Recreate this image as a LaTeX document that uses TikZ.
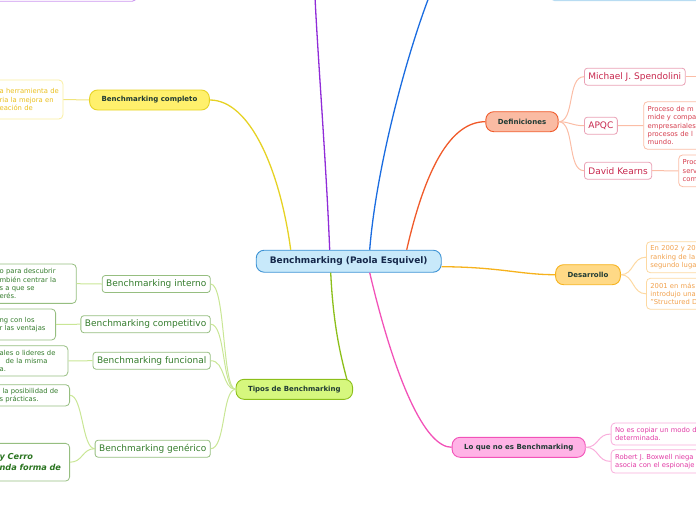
\documentclass[tikz,border=0pt]{standalone}
\usepackage{fontspec}
\setmainfont{DejaVu Sans}
\usetikzlibrary{positioning}
\definecolor{cenfill}{HTML}{C8E9FA}
\definecolor{cenline}{HTML}{3C92D4}
\definecolor{navytext}{HTML}{15284A}
\definecolor{darktext}{HTML}{1F3A34}
\definecolor{yellowfill}{HTML}{FFF06C}
\definecolor{yellowline}{HTML}{E6D224}
\definecolor{yellowsoft}{HTML}{FAEFA0}
\definecolor{yellowtext}{HTML}{EBC01E}
\definecolor{purpleline}{HTML}{902CD8}
\definecolor{purplesoft}{HTML}{CC96F0}
\definecolor{blueline}{HTML}{1A6CE0}
\definecolor{bluesoft}{HTML}{B8DCF2}
\definecolor{redfill}{HTML}{FABBA3}
\definecolor{redline}{HTML}{F05A2A}
\definecolor{redsoft}{HTML}{FBBDA6}
\definecolor{crimson}{HTML}{C8284E}
\definecolor{crimsonsoft}{HTML}{EAA2B6}
\definecolor{rusttext}{HTML}{D63E4E}
\definecolor{orangefill}{HTML}{FFD986}
\definecolor{orangeline}{HTML}{F6B21C}
\definecolor{orangesoft}{HTML}{FDD9A2}
\definecolor{orangetext}{HTML}{F2A24E}
\definecolor{greenfill}{HTML}{D6F77E}
\definecolor{greenline}{HTML}{8CBF1A}
\definecolor{greensoft}{HTML}{C9E695}
\definecolor{greenbox}{HTML}{96BE80}
\definecolor{greentext}{HTML}{347C2C}
\definecolor{greendark}{HTML}{2A7420}
\definecolor{pinkfill}{HTML}{FFB3E6}
\definecolor{pinkline}{HTML}{F252B8}
\definecolor{pinksoft}{HTML}{F9AEDC}
\definecolor{pinktext}{HTML}{E23CA6}

\begin{document}
\begin{tikzpicture}[x=1pt,y=-1pt]
\useasboundingbox (0,0) rectangle (696,520);

% 1. Stile definieren
\tikzset{
  central/.style={draw=cenline, fill=cenfill, line width=0.9pt, rounded corners=8pt,
    minimum width=185pt, minimum height=22pt, inner sep=0pt, text=navytext,
    font=\fontsize{9}{10}\selectfont\bfseries},
  topic/.style={line width=0.9pt, rounded corners=8pt, minimum height=20pt,
    inner xsep=12pt, inner ysep=0pt, text=darktext,
    font=\fontsize{7}{8}\selectfont\bfseries},
  subnode/.style={draw, fill=white, line width=0.8pt, rounded corners=3pt,
    minimum height=17pt, inner xsep=4pt, inner ysep=0pt,
    font=\fontsize{9}{10}\selectfont},
  detailbox/.style={draw, fill=white, line width=0.8pt, rounded corners=4pt,
    inner xsep=4pt, inner ysep=2pt, align=left,
    font=\fontsize{6.8}{8.3}\selectfont},
  mainbranch/.style={line width=1.3pt},
  twig/.style={line width=1pt}
}

% 2. Knoten
\node [central] (cen) at (348.7,261.2) {Benchmarking (Paola Esquivel)};

\node [draw=purplesoft, line width=0.9pt, rounded corners=4pt, minimum width=170pt,
  minimum height=30pt, anchor=south east] (purplebox) at (136.7,1.7) {};
\node [draw=bluesoft, line width=0.9pt, rounded corners=4pt, minimum width=170pt,
  minimum height=30pt, anchor=south west] (bluebox) at (550,1) {};

\node [topic, draw=yellowline, fill=yellowfill] (bcomp) at (149.5,100) {Benchmarking completo};
\node [detailbox, draw=yellowsoft, text=yellowtext, anchor=east, text width=59.3pt,
  minimum height=39pt] (compdet) at (63.3,99.5) {a herramienta de\\ria la mejora en\\eación de\\[2pt]};

\node [topic, draw=redline, fill=redfill] (def) at (522,121.7) {Definiciones};
\node [subnode, draw=crimsonsoft, text=crimson, anchor=west] (spend) at (584,76.7) {Michael J. Spendolini};
\node [subnode, draw=crimsonsoft, text=crimson, anchor=west] (apqc) at (584,125.7) {APQC};
\node [subnode, draw=crimsonsoft, text=crimson, anchor=west] (kearns) at (584,170.7) {David Kearns};
\node [detailbox, draw=redsoft, text=rusttext, anchor=west, text width=80pt,
  minimum height=47.6pt] (apqcdet) at (643.3,125.5) {Proceso de m\\mide y compa\\empresariales\\procesos de l\\mundo.};
\node [detailbox, draw=redsoft, text=rusttext, anchor=west, text width=80pt,
  minimum height=31.7pt] (kearnsdet) at (678.3,170.8) {Proc\\serv\\com};
\coordinate (spendend) at (700,76.7);

\node [topic, draw=orangeline, fill=orangefill] (des) at (588,274.7) {Desarrollo};
\node [detailbox, draw=orangesoft, text=orangetext, anchor=west, text width=80pt,
  minimum height=31pt] (desdet1) at (646,257.2) {En 2002 y 20\\ranking de la\\segundo luga};
\node [detailbox, draw=orangesoft, text=orangetext, anchor=west, text width=80pt,
  minimum height=31pt] (desdet2) at (646,293.8) {2001 en más\\introdujo una\\"Structured D};

\node [topic, draw=greenline, fill=greenfill] (tipos) at (294.3,389.3) {Tipos de Benchmarking};
\node [subnode, draw=greenbox, text=greentext, anchor=east] (intern) at (210.7,284) {Benchmarking interno};
\node [subnode, draw=greenbox, text=greentext, anchor=east] (kompet) at (210.7,324.2) {Benchmarking competitivo};
\node [subnode, draw=greenbox, text=greentext, anchor=east] (funkt) at (210.7,360.7) {Benchmarking funcional};
\node [subnode, draw=greenbox, text=greentext, anchor=east] (gener) at (210.7,448.7) {Benchmarking genérico};
\node [detailbox, draw=greenbox, text=greentext, anchor=east, text width=72.7pt,
  minimum height=39.3pt] (interndet) at (76.7,283.7) {o para descubrir\\mbién centrar la\\s a que se\\erés.};
\node [detailbox, draw=greenbox, text=greentext, anchor=east, text width=52pt,
  minimum height=31pt] (kompetdet) at (56,324.5) {ng con los\\r las ventajas\\[2pt]};
\node [detailbox, draw=greenbox, text=greentext, anchor=east, text width=64.3pt,
  minimum height=30.3pt] (funktdet) at (68.3,360.9) {ales o lideres de\\\hspace*{6pt}de la misma\\a.};
\node [detailbox, draw=greenbox, text=greentext, anchor=east, text width=66pt,
  minimum height=21.3pt] (generdet1) at (70,395.3) {\hspace*{3pt}la posibilidad de\\s prácticas.};
\node [detailbox, draw=greenbox, text=greendark, anchor=east, text width=66pt,
  minimum height=37.7pt, font=\fontsize{8.2}{11}\selectfont\bfseries\itshape] (generdet2) at (70,462.2) {y Cerro\\nda forma de\\[6pt]};

\node [topic, draw=pinkline, fill=pinkfill] (loque) at (518.7,447.3) {Lo que no es Benchmarking};
\node [detailbox, draw=pinksoft, text=pinktext, anchor=west, text width=90pt,
  minimum height=22pt] (loquedet1) at (610.7,434) {No es copiar un modo d\\determinada.};
\node [detailbox, draw=pinksoft, text=pinktext, anchor=west, text width=90pt,
  minimum height=23.3pt] (loquedet2) at (610.7,461.4) {Robert J. Boxwell niega\\asocia con el espionaje};

% 3. Hauptzweige
\draw [mainbranch, purpleline] ([xshift=-19pt]cen.north) .. controls (326,160) and (318,60) .. (315,-3);
\draw [mainbranch, blueline] ([xshift=21pt]cen.north) .. controls (376,170) and (405,60) .. (429,-3);
\draw [mainbranch, yellowline] ([xshift=-58pt]cen.north) .. controls (280,170) and (250,100) .. (bcomp.east);
\draw [mainbranch, redline] ([xshift=58pt]cen.north) .. controls (425,170) and (450,121.7) .. (def.west);
\draw [mainbranch, orangeline] ([yshift=-5.5pt]cen.east) .. controls (500,267) and (520,274.7) .. (des.west);
\draw [mainbranch, greenline] ([xshift=-18pt]cen.south) .. controls (333,320) and (339,350) .. ([xshift=-6pt,yshift=-1pt]tipos.north east);
\draw [mainbranch, pinkline] ([xshift=21pt]cen.south) .. controls (395,380) and (425,447.3) .. (loque.west);

% 4. Nebenzweige
\draw [twig, yellowline!60] (bcomp.west) -- (compdet.east);

\draw [twig, redsoft] (def.east) .. controls (575,121.7) and (567,76.7) .. (spend.west);
\draw [twig, redsoft] (def.east) .. controls (570,121.7) and (572,125.7) .. (apqc.west);
\draw [twig, redsoft] (def.east) .. controls (575,121.7) and (567,170.7) .. (kearns.west);
\draw [twig, redsoft] (spend.east) -- (spendend);
\draw [twig, redsoft] (apqc.east) -- (apqcdet.west);
\draw [twig, redsoft] (kearns.east) -- (kearnsdet.west);

\draw [twig, orangesoft] (des.east) .. controls (634,274.7) and (632,257.2) .. (desdet1.west);
\draw [twig, orangesoft] (des.east) .. controls (634,274.7) and (632,293.8) .. (desdet2.west);

\foreach \kind in {intern, kompet, funkt, gener}
  \draw [twig, greensoft] (tipos.west) .. controls (222,389.3) and ([xshift=15pt]\kind.east) .. (\kind.east);
\draw [twig, greensoft] (intern.west) -- (interndet.east);
\draw [twig, greensoft] (kompet.west) -- (kompetdet.east);
\draw [twig, greensoft] (funkt.west) -- (funktdet.east);
\draw [twig, greensoft] (gener.west) .. controls (82,448.7) and (83,395.3) .. (generdet1.east);
\draw [twig, greensoft] (gener.west) .. controls (82,448.7) and (83,462.2) .. (generdet2.east);

\draw [twig, pinksoft] (loque.east) .. controls (599,447.3) and (597,434) .. (loquedet1.west);
\draw [twig, pinksoft] (loque.east) .. controls (599,447.3) and (597,461.4) .. (loquedet2.west);

\end{tikzpicture}
\end{document}
